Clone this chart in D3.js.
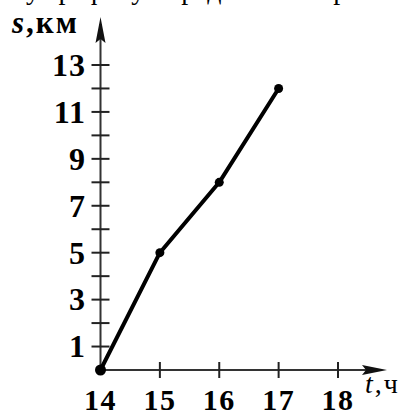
<!DOCTYPE html>
<html>
<head>
<meta charset="utf-8">
<script src="https://cdn.jsdelivr.net/npm/d3@7"></script>
<style>
  body { margin: 0; background: #fff; }
  svg { display: block; font-family: "Liberation Serif", "DejaVu Serif", serif; }
</style>
</head>
<body>
<div id="chart"></div>
<script>
// hours and distance (km)
const hours = [14, 15, 16, 17];
const distance = [0, 5, 8, 12];
const xTicks = [14, 15, 16, 17, 18];
const yTicks = d3.range(1, 14);          // every km gets a tick mark
const yLabels = [1, 3, 5, 7, 9, 11, 13];  // only odd ones are labelled

const width = 412, height = 417;
const margin = { top: 65, bottom: 47, left: 100.5, right: 74 };

const svg = d3.select('#chart').append('svg')
  .attr('width', width)
  .attr('height', height);

const xScale = d3.scaleLinear().domain([14, 18]).range([margin.left, width - margin.right]);
const yScale = d3.scaleLinear().domain([0, 13]).range([height - margin.bottom, margin.top]);

const x0 = xScale(14), y0 = yScale(0);

// cut-off line of the page text above the figure
svg.append('text')
  .attr('x', 26)
  .attr('y', -1)
  .attr('font-size', 28)
  .text('у графику определите скорость');

// axes lines
svg.append('line')
  .attr('x1', x0).attr('y1', y0)
  .attr('x2', 380).attr('y2', y0)
  .attr('stroke', '#333').attr('stroke-width', 2);
svg.append('path')
  .attr('d', `M387,${y0} L362,${y0 - 5} L366,${y0} L362,${y0 + 5} Z`)
  .attr('fill', '#111');

svg.append('line')
  .attr('x1', x0).attr('y1', y0)
  .attr('x2', x0).attr('y2', 24)
  .attr('stroke', '#333').attr('stroke-width', 2);
svg.append('path')
  .attr('d', `M${x0},17 L${x0 - 5},43 L${x0},39 L${x0 + 5},43 Z`)
  .attr('fill', '#111');

// y ticks
svg.append('g').selectAll('line')
  .data(yTicks)
  .join('line')
  .attr('x1', x0 - 9).attr('x2', x0 + 9)
  .attr('y1', d => yScale(d)).attr('y2', d => yScale(d))
  .attr('stroke', '#222').attr('stroke-width', 2);

svg.append('g').selectAll('text')
  .data(yLabels)
  .join('text')
  .attr('x', 86)
  .attr('y', d => yScale(d))
  .attr('dy', '0.34em')
  .attr('text-anchor', 'end')
  .attr('font-size', 32)
  .attr('font-weight', 'bold')
  .attr('letter-spacing', 1)
  .text(d => d);

// x ticks
svg.append('g').selectAll('line')
  .data(xTicks.slice(1))
  .join('line')
  .attr('x1', d => xScale(d)).attr('x2', d => xScale(d))
  .attr('y1', y0 - 8).attr('y2', y0 + 8)
  .attr('stroke', '#222').attr('stroke-width', 2);

svg.append('g').selectAll('text')
  .data(xTicks)
  .join('text')
  .attr('x', d => xScale(d))
  .attr('y', 410)
  .attr('text-anchor', 'middle')
  .attr('font-size', 30)
  .attr('font-weight', 'bold')
  .attr('letter-spacing', 1.5)
  .text(d => d);

// axis titles
const yTitle = svg.append('text')
  .attr('x', 12).attr('y', 33)
  .attr('font-size', 31)
  .attr('font-weight', 'bold')
  .attr('letter-spacing', 2);
yTitle.append('tspan').attr('font-style', 'italic').text('s');
yTitle.append('tspan').text(',км');

const xTitle = svg.append('text')
  .attr('x', 365).attr('y', 393)
  .attr('font-size', 28)
  .attr('letter-spacing', 2);
xTitle.append('tspan').attr('font-style', 'italic').text('t');
xTitle.append('tspan').text(',ч');

// the line and its points
const pts = hours.map((h, i) => [h, distance[i]]);
svg.append('path')
  .datum(pts)
  .attr('fill', 'none')
  .attr('stroke', '#000')
  .attr('stroke-width', 4)
  .attr('stroke-linejoin', 'round')
  .attr('d', d3.line().x(d => xScale(d[0])).y(d => yScale(d[1])));

svg.append('g').selectAll('circle')
  .data(pts)
  .join('circle')
  .attr('cx', d => xScale(d[0]))
  .attr('cy', d => yScale(d[1]))
  .attr('r', (d, i) => i === 0 ? 5.5 : 4.5)
  .attr('fill', '#000');
</script>
</body>
</html>
